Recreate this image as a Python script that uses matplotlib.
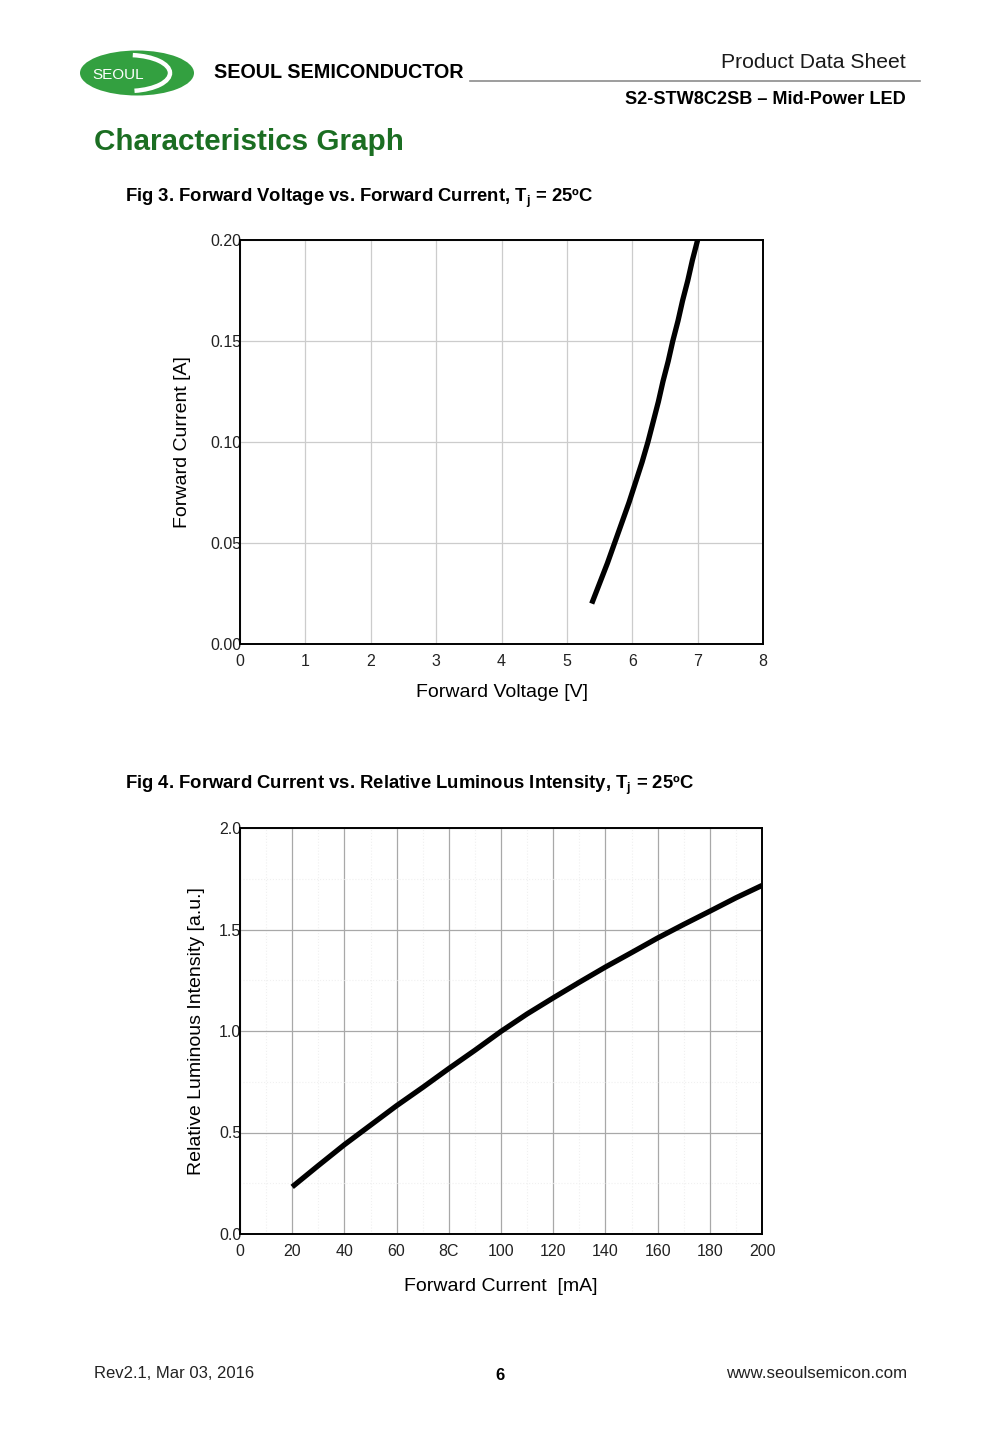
import matplotlib
matplotlib.use("Agg")
import matplotlib.pyplot as plt
from matplotlib.patches import Ellipse, Arc
import numpy as np

# ---- data ----
fig3_current = [0.020, 0.030, 0.040, 0.050, 0.060, 0.070, 0.080, 0.090, 0.100,
                0.110, 0.120, 0.130, 0.140, 0.150, 0.160, 0.170, 0.180, 0.190, 0.200]
fig3_voltage = [5.38, 5.50, 5.62, 5.73, 5.84, 5.95, 6.05, 6.15, 6.24,
                6.32, 6.40, 6.47, 6.55, 6.62, 6.70, 6.77, 6.85, 6.92, 7.00]
fig3_xticks = [0, 1, 2, 3, 4, 5, 6, 7, 8]
fig3_yticks = [0.00, 0.05, 0.10, 0.15, 0.20]
fig3_yticklabels = ["0.00", "0.05", "0.10", "0.15", "0.20"]

fig4_current = [20, 30, 40, 50, 60, 70, 80, 90, 100, 110, 120,
                130, 140, 150, 160, 170, 180, 190, 200]
fig4_intensity = [0.232, 0.337, 0.440, 0.536, 0.632, 0.722, 0.815, 0.905, 0.998, 1.084, 1.163,
                  1.240, 1.315, 1.386, 1.458, 1.525, 1.590, 1.656, 1.717]
fig4_xticks = [0, 20, 40, 60, 80, 100, 120, 140, 160, 180, 200]
fig4_xticklabels = ["0", "20", "40", "60", "8C", "100", "120", "140", "160", "180", "200"]
fig4_yticks = [0.0, 0.5, 1.0, 1.5, 2.0]
fig4_yticklabels = ["0.0", "0.5", "1.0", "1.5", "2.0"]

plt.rcParams['font.family'] = ['Liberation Sans', 'DejaVu Sans']
plt.rcParams['mathtext.fontset'] = 'custom'
plt.rcParams['mathtext.rm'] = 'Liberation Sans:bold'
plt.rcParams['mathtext.it'] = 'Liberation Sans:bold'
plt.rcParams['mathtext.bf'] = 'Liberation Sans:bold'

W, H = 1000, 1444
fig = plt.figure(figsize=(W / 100, H / 100), dpi=100)

# overlay axes in pixel coordinates
ov = fig.add_axes([0, 0, 1, 1], zorder=-1)
ov.set_xlim(0, W)
ov.set_ylim(H, 0)
ov.axis('off')

GREEN_LOGO = '#33a040'
GREEN_TITLE = '#1b6e22'

# logo
ov.add_patch(Ellipse((137, 73), 114, 45, facecolor=GREEN_LOGO, edgecolor='none'))
ov.add_patch(Arc((128, 73), 84, 36, theta1=-75, theta2=70, color='white', lw=3.2))
ov.text(118, 75, "SEOUL", color='white', fontsize=11, ha='center', va='center')
ov.text(214, 73, "SEOUL SEMICONDUCTOR", fontsize=14.2, fontweight='bold',
        ha='left', va='center')
ov.plot([470, 920], [81, 81], color='#8c8c8c', lw=1.2)
ov.text(906, 63, "Product Data Sheet", fontsize=15.2, ha='right', va='center', color='#1a1a1a')
ov.text(906, 100, "S2-STW8C2SB \u2013 Mid-Power LED", fontsize=13.1, fontweight='bold',
        ha='right', va='center')
ov.text(94, 142, "Characteristics Graph", fontsize=21.3, fontweight='bold',
        color=GREEN_TITLE, ha='left', va='center')

ov.text(125, 198, r"Fig 3. Forward Voltage vs. Forward Current, T$_{\mathrm{j}}$ = 25ºC",
        fontsize=13.3, fontweight='bold', ha='left', va='center')
ov.text(125, 785, r"Fig 4. Forward Current vs. Relative Luminous Intensity, T$_{\mathrm{j}}$ = 25ºC",
        fontsize=13.3, fontweight='bold', ha='left', va='center')

# footer
ov.text(94, 1374, "Rev2.1, Mar 03, 2016", fontsize=12, ha='left', va='center', color='#222222')
ov.text(500, 1376, "6", fontsize=12, fontweight='bold', ha='center', va='center')
ov.text(907, 1373, "www.seoulsemicon.com", fontsize=12.2, ha='right', va='center', color='#222222')


def ax_rect(x0, y0, x1, y1):
    return [x0 / W, 1 - y1 / H, (x1 - x0) / W, (y1 - y0) / H]


# ---- Fig 3 ----
ax1 = fig.add_axes(ax_rect(240, 240, 763, 644))
ax1.plot(fig3_voltage, fig3_current, color='black', lw=3.8, solid_capstyle='butt')
ax1.set_xlim(0, 8)
ax1.set_ylim(0, 0.20)
ax1.set_xticks(fig3_xticks)
ax1.set_yticks(fig3_yticks)
ax1.set_yticklabels(fig3_yticklabels)
ax1.grid(True, color='#cccccc', lw=0.9)
ax1.set_axisbelow(True)
ax1.tick_params(length=0, labelsize=11.5, colors='#222222')
ax1.tick_params(axis='y', pad=-1)
ax1.tick_params(axis='x', pad=7)
for s in ax1.spines.values():
    s.set_linewidth(1.4)
    s.set_color('black')
ax1.set_xlabel("Forward Voltage [V]", fontsize=14, labelpad=11)
ax1.set_ylabel("Forward Current [A]", fontsize=14, labelpad=14)

# ---- Fig 4 ----
ax2 = fig.add_axes(ax_rect(240, 828, 762, 1234))
ax2.plot(fig4_current, fig4_intensity, color='black', lw=3.8, solid_capstyle='butt')
ax2.set_xlim(0, 200)
ax2.set_ylim(0, 2.0)
ax2.set_xticks(fig4_xticks)
ax2.set_xticklabels(fig4_xticklabels)
ax2.set_yticks(fig4_yticks)
ax2.set_yticklabels(fig4_yticklabels)
ax2.set_xticks(np.arange(10, 200, 20), minor=True)
ax2.set_yticks([0.25, 0.75, 1.25, 1.75], minor=True)
ax2.grid(True, which='major', color='#a8a8a8', lw=0.9)
ax2.grid(True, which='minor', color='#f0f0f0', lw=0.8, ls=':')
ax2.set_axisbelow(True)
ax2.tick_params(which='both', length=0, labelsize=11.5, colors='#222222')
ax2.tick_params(axis='y', pad=-1)
ax2.tick_params(axis='x', pad=7)
for s in ax2.spines.values():
    s.set_linewidth(1.4)
    s.set_color('black')
ax2.set_xlabel("Forward Current  [mA]", fontsize=14, labelpad=14)
ax2.set_ylabel("Relative Luminous Intensity [a.u.]", fontsize=14, labelpad=10)

fig.savefig("out.png", dpi=100, facecolor='white')
